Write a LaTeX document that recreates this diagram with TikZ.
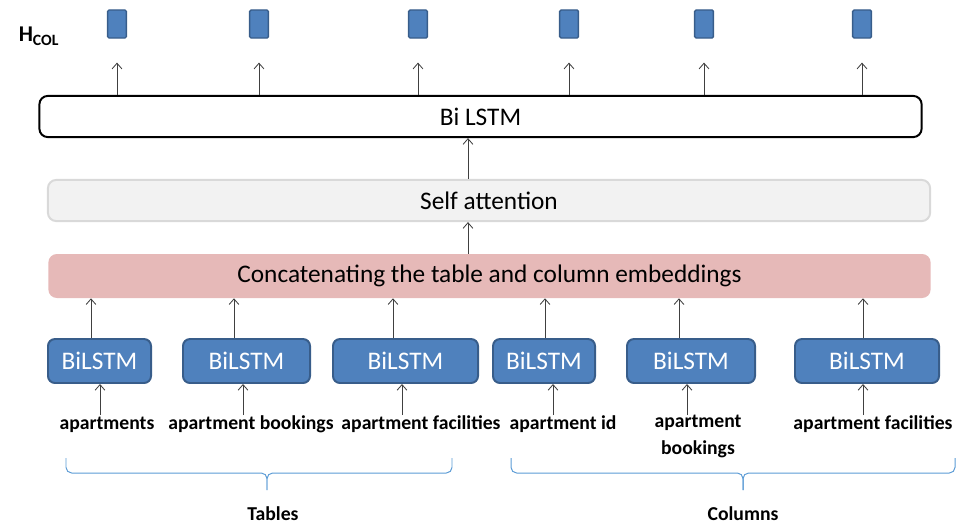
\documentclass[tikz,border=0pt]{standalone}
\usepackage{fontspec}
\setmainfont{Carlito}
\usetikzlibrary{arrows.meta,calc}

\definecolor{boxblue}{RGB}{79,129,189}
\definecolor{boxedge}{RGB}{56,93,138}
\definecolor{attgray}{RGB}{242,242,242}
\definecolor{attedge}{RGB}{217,217,217}
\definecolor{catpink}{RGB}{230,185,184}
\definecolor{bracecol}{RGB}{91,155,213}
\definecolor{arrgray}{RGB}{64,64,64}

\tikzset{
  main/.style={font=\fontsize{18}{21}\selectfont, inner sep=0pt},
  layer/.style={main, rounded corners=6pt, minimum width=22.05cm, minimum height=1.03cm},
  lstmbox/.style={main, draw=boxedge, fill=boxblue, text=white, line width=1.4pt, rounded corners=5pt, minimum height=1.1cm},
  outbox/.style={draw=boxedge, fill=boxblue, line width=1pt, rounded corners=1pt, minimum width=0.47cm, minimum height=0.7cm, inner sep=0pt},
  word/.style={font=\fontsize{14}{19}\selectfont\bfseries, anchor=north, inner sep=0pt, align=center, execute at begin node=\vphantom{bk}},
  arr/.style={draw=arrgray, line width=0.6pt, -{Straight Barb[length=4pt,width=7pt]}},
  brace/.style={draw=bracecol, line width=0.7pt, rounded corners=4pt}
}

\begin{document}
\begin{tikzpicture}[x=0.025cm,y=-0.025cm]
\useasboundingbox (0,0) rectangle (958,527);

% The output vectors.
\node[font=\fontsize{16}{18}\selectfont\bfseries, inner sep=0pt] (hcol) at (39,36) {H\textsubscript{COL}};
\foreach \n/\x in {1/117,2/259,3/418,4/569,5/704,6/862}
  \node[outbox] (h\n) at (\x,24) {};

% The three layers.
\node[layer, draw=black, fill=white, line width=1.4pt] (bilstm) at (480.5,116.5) {Bi LSTM};
\node[layer, draw=attedge, fill=attgray, line width=1.4pt] (selfatt) at (489,200.5) {Self attention};
\node[layer, fill=catpink, minimum height=1.1cm] (concat) at (489.5,276) {Concatenating the table and column embeddings};

% One encoder per table and column name.
\node[lstmbox, minimum width=2.575cm] (t1) at (99.5,361) {BiLSTM};
\node[lstmbox, minimum width=3.175cm] (t2) at (246.5,361) {BiLSTM};
\node[lstmbox, minimum width=3.625cm] (t3) at (405.5,361) {BiLSTM};
\node[lstmbox, minimum width=2.55cm] (c1) at (544,361) {BiLSTM};
\node[lstmbox, minimum width=3.2cm] (c2) at (691,361) {BiLSTM};
\node[lstmbox, minimum width=3.6cm] (c3) at (867,361) {BiLSTM};

\node[word] (l1) at (107,415) {apartments};
\node[word] (l2) at (251,415) {apartment bookings};
\node[word] (l3) at (421,415) {apartment facilities};
\node[word] (l4) at (563,415) {apartment id};
\node[word] (l5) at (698,415) {apartment\\bookings};
\node[word] (l6) at (873,415) {apartment facilities};

% Inputs into the encoders, encoders into the concatenation.
\foreach \x/\b/\l in {100/t1/l1,243/t2/l2,402/t3/l3,553/c1/l4,687/c2/l5,863/c3/l6}
  \draw[arr] (\x,0 |- \l.north) -- (\x,0 |- \b.south);
\foreach \x/\b in {91/t1,234/t2,393/t3,545/c1,679/c2,863/c3}
  \draw[arr] (\x,0 |- \b.north) -- (\x,0 |- concat.south);

\draw[arr] (468,0 |- concat.north) -- (468,0 |- selfatt.south);
\draw[arr] (468,0 |- selfatt.north) -- (468,0 |- bilstm.south);
\foreach \n in {1,...,6}
  \draw[arr, shorten >=17pt] (h\n.south |- bilstm.north) -- (h\n.south);

% Group braces: ends, middle of the bar, tip.
\coordinate (tabL) at (66,458);
\coordinate (tabR) at (452,458);
\coordinate (tabM) at (267,473);
\coordinate (tabT) at (267,490);
\coordinate (colL) at (511,458);
\coordinate (colR) at (955,458);
\coordinate (colM) at (743,473);
\coordinate (colT) at (743,490);
\draw[brace] (tabL) -- (tabL |- tabM) -- (tabM) -- (tabT);
\draw[brace] (tabR) -- (tabR |- tabM) -- (tabM) -- (tabT);
\draw[brace] (colL) -- (colL |- colM) -- (colM) -- (colT);
\draw[brace] (colR) -- (colR |- colM) -- (colM) -- (colT);
\node[word, anchor=center, execute at begin node={}] (tables) at (273,514) {Tables};
\node[word, anchor=center, execute at begin node={}] (columns) at (743,514) {Columns};
\end{tikzpicture}
\end{document}
